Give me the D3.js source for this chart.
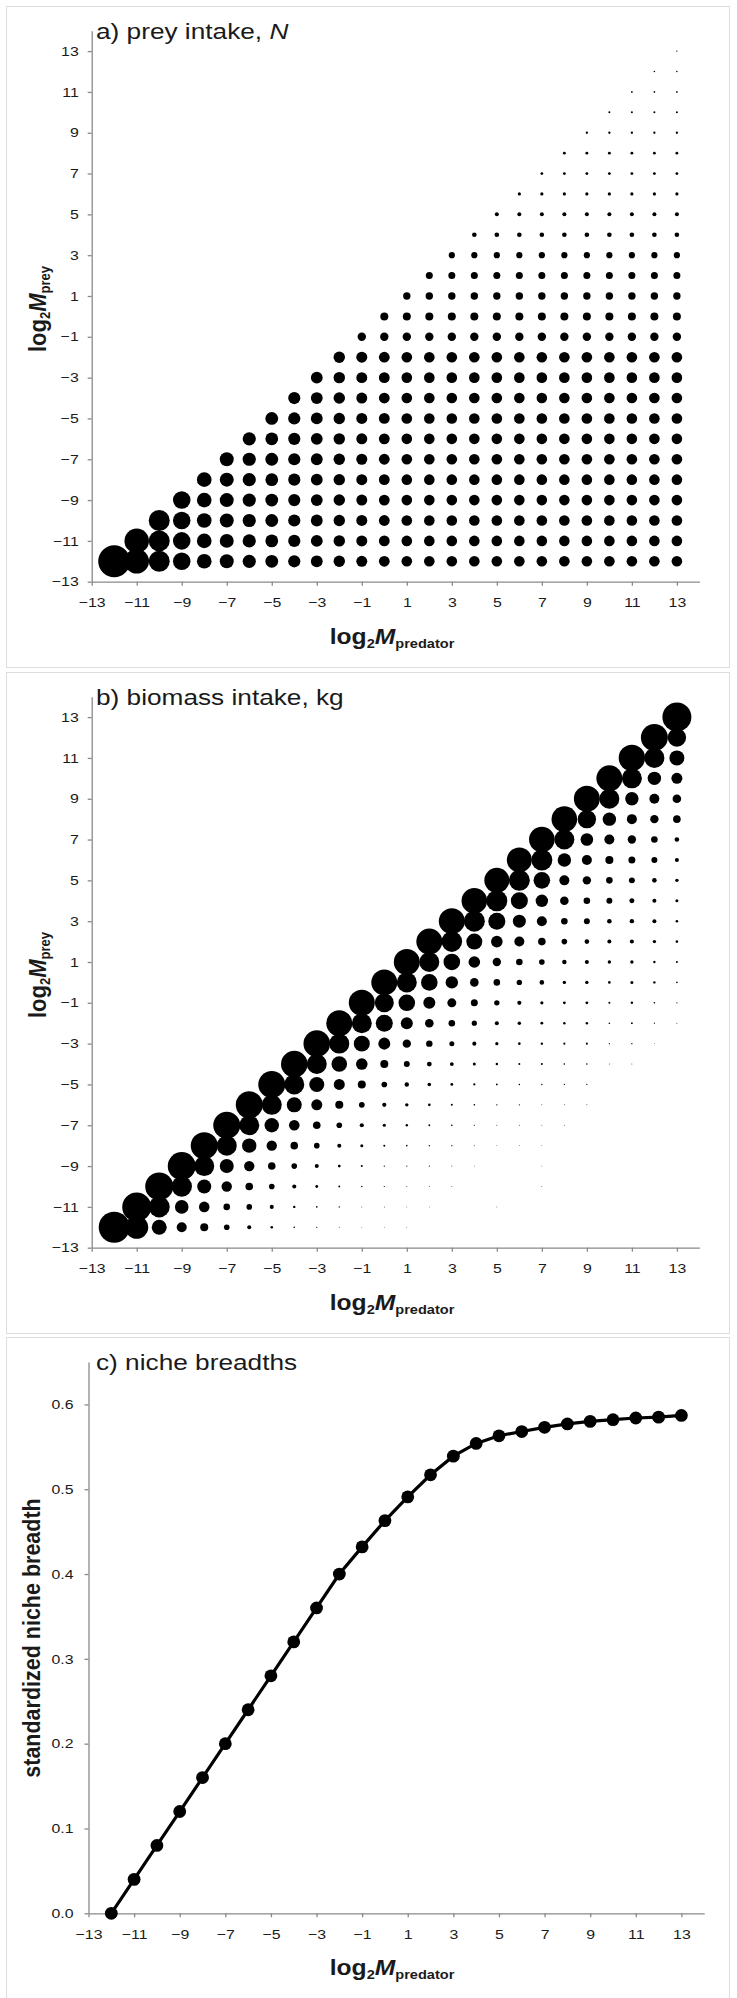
<!DOCTYPE html>
<html lang="en">
<head>
<meta charset="UTF-8">
<title>Prey intake, biomass intake and niche breadth</title>
<script src="https://d3js.org/d3.v7.min.js"></script>
<style>
  body { margin: 0; background: #fff; }
  svg text { font-family: Arial, "Liberation Sans", sans-serif; fill: #1a1a1a; }
</style>
</head>
<body>
<svg id="fig" width="737" height="1998"></svg>
<script>
// predator size classes (log2 M), prey rows run from -12 up to the predator class
const predatorMass = [-12, -11, -10, -9, -8, -7, -6, -5, -4, -3, -2, -1, 0, 1, 2, 3, 4, 5, 6, 7, 8, 9, 10, 11, 12, 13];
const logTicks = [-13, -11, -9, -7, -5, -3, -1, 1, 3, 5, 7, 9, 11, 13];
const nicheTicks = [0, 0.1, 0.2, 0.3, 0.4, 0.5, 0.6];

// a) prey intake N (relative, bubble area), one array per predator, prey -12 .. predator
const preyIntakeN = [
  [100],
  [59, 59],
  [43, 43, 43],
  [30, 30, 30, 30],
  [21, 21, 21, 21, 21],
  [19, 19, 19, 19, 19, 19],
  [17, 17, 17, 17, 17, 17, 17],
  [16, 16, 16, 16, 16, 16, 16, 16],
  [14.5, 14.5, 14.5, 14.5, 14.5, 14.5, 14.5, 14.5, 14.5],
  [13.6, 13.6, 13.6, 13.6, 13.6, 13.6, 13.6, 13.6, 13.6, 13.6],
  [12.7, 12.7, 12.7, 12.7, 12.7, 12.7, 12.7, 12.7, 12.7, 12.7, 12.7],
  [11.8, 11.8, 11.8, 11.8, 11.8, 11.8, 11.8, 11.8, 11.8, 11.8, 11.8, 6.9],
  [11.4, 11.4, 11.4, 11.4, 11.4, 11.4, 11.4, 11.4, 11.4, 11.4, 11.4, 6.9, 6.25],
  [11, 11, 11, 11, 11, 11, 11, 11, 11, 11, 11, 6.9, 6.25, 5.35],
  [11, 11, 11, 11, 11, 11, 11, 11, 11, 11, 11, 6.9, 6.25, 5.35, 4.8],
  [11, 11, 11, 11, 11, 11, 11, 11, 11, 11, 11, 6.9, 6.25, 5.35, 4.8, 3.75],
  [11, 11, 11, 11, 11, 11, 11, 11, 11, 11, 11, 6.9, 6.25, 5.35, 4.8, 3.75, 2.07],
  [11, 11, 11, 11, 11, 11, 11, 11, 11, 11, 11, 6.9, 6.25, 5.35, 4.8, 3.75, 2.07, 1.56],
  [11, 11, 11, 11, 11, 11, 11, 11, 11, 11, 11, 6.9, 6.25, 5.35, 4.8, 3.75, 2.07, 1.56, 1.0],
  [11, 11, 11, 11, 11, 11, 11, 11, 11, 11, 11, 6.9, 6.25, 5.35, 4.8, 3.75, 2.07, 1.56, 1.0, 0.77],
  [11, 11, 11, 11, 11, 11, 11, 11, 11, 11, 11, 6.9, 6.25, 5.35, 4.8, 3.75, 2.07, 1.56, 1.0, 0.77, 0.77],
  [11, 11, 11, 11, 11, 11, 11, 11, 11, 11, 11, 6.9, 6.25, 5.35, 4.8, 3.75, 2.07, 1.56, 1.0, 0.77, 0.77, 0.52],
  [11, 11, 11, 11, 11, 11, 11, 11, 11, 11, 11, 6.9, 6.25, 5.35, 4.8, 3.75, 2.07, 1.56, 1.0, 0.77, 0.77, 0.52, 0.39],
  [11, 11, 11, 11, 11, 11, 11, 11, 11, 11, 11, 6.9, 6.25, 5.35, 4.8, 3.75, 2.07, 1.56, 1.0, 0.77, 0.77, 0.52, 0.39, 0.28],
  [11, 11, 11, 11, 11, 11, 11, 11, 11, 11, 11, 6.9, 6.25, 5.35, 4.8, 3.75, 2.07, 1.56, 1.0, 0.77, 0.77, 0.52, 0.39, 0.28, 0.22],
  [11, 11, 11, 11, 11, 11, 11, 11, 11, 11, 11, 6.9, 6.25, 5.35, 4.8, 3.75, 2.07, 1.56, 1.0, 0.77, 0.77, 0.52, 0.39, 0.28, 0.22, 0.165]
];

// b) biomass intake (relative, bubble area), prey -12 .. predator
const biomassIntake = [
  [100],
  [55, 87.5],
  [23.4, 45.9, 81.5],
  [10.4, 19.2, 43.3, 81.5],
  [6.7, 11.7, 20.4, 41.6, 75.8],
  [3.3, 4.5, 11.2, 20.4, 41.6, 75.8],
  [1.7, 3.3, 6, 11.2, 21.6, 41.6, 75.8],
  [0.7, 1.7, 3.3, 6, 11.2, 21.6, 41.6, 75.8],
  [0.27, 0.6, 1.7, 3.3, 6, 11.7, 23.4, 41.6, 73.6],
  [0.15, 0.27, 0.82, 1.7, 3.3, 6, 12.6, 23.4, 41.6, 73.6],
  [0.1, 0.2, 0.34, 0.82, 1.7, 3.3, 6.7, 12.6, 25.3, 41.6, 70.3],
  [0.07, 0.1, 0.2, 0.42, 0.94, 1.8, 3.5, 6.7, 14, 26.6, 41.6, 70.3],
  [0.07, 0.1, 0.15, 0.2, 0.42, 1.07, 1.8, 3.3, 6.7, 15, 30.1, 37.5, 70.3],
  [0.07, 0.07, 0.1, 0.15, 0.27, 0.6, 1.2, 2, 3.7, 7.3, 15, 28.7, 41.6, 70.3],
  [0, 0.07, 0.1, 0.15, 0.2, 0.34, 0.7, 1.35, 2.4, 4.3, 7.7, 15, 28.7, 41.6, 70.3],
  [0, 0, 0.07, 0.1, 0.15, 0.27, 0.42, 0.82, 1.5, 2.6, 4.5, 8.4, 16, 28.7, 44.1, 70.3],
  [0, 0, 0, 0.07, 0.1, 0.15, 0.27, 0.5, 0.94, 1.7, 2.8, 5.1, 7.7, 14, 26.6, 45.9, 68.2],
  [0, 0.07, 0, 0, 0.07, 0.1, 0.2, 0.34, 0.6, 1.07, 1.7, 3, 4.5, 7.3, 14, 30.1, 45.9, 65],
  [0, 0, 0, 0, 0.07, 0.1, 0.15, 0.27, 0.42, 0.7, 1.2, 1.8, 3, 4.5, 10.4, 17.6, 30.1, 45.9, 65],
  [0, 0, 0.07, 0.07, 0.07, 0.07, 0.1, 0.2, 0.42, 0.6, 0.82, 1.07, 2.2, 3.3, 6, 10.4, 16, 28.7, 45.9, 68.2],
  [0, 0, 0, 0, 0, 0.07, 0.1, 0.15, 0.27, 0.42, 0.6, 0.82, 1.2, 2, 3.3, 4.5, 7.7, 10.4, 18.7, 41.6, 68.2],
  [0, 0, 0, 0, 0, 0, 0.1, 0.15, 0.27, 0.42, 0.6, 0.82, 1.2, 1.7, 2.2, 3.7, 4.5, 7.3, 10.4, 16.5, 35.2, 70.3],
  [0, 0, 0, 0, 0, 0, 0, 0, 0.1, 0.15, 0.27, 0.42, 0.7, 1.2, 1.7, 2.2, 3.7, 4.5, 6.7, 10.4, 18.7, 41.6, 70.3],
  [0, 0, 0, 0, 0, 0, 0, 0, 0.1, 0.2, 0.34, 0.6, 0.94, 1.2, 1.7, 2, 2.6, 3.7, 5.1, 7.3, 10.4, 18.7, 41.6, 72.5],
  [0, 0, 0, 0, 0, 0, 0, 0, 0, 0.07, 0.15, 0.27, 0.6, 0.6, 1.2, 1.7, 1.7, 2.2, 3.7, 4.5, 7.3, 10.4, 18.7, 41.6, 75.8],
  [0, 0, 0, 0, 0, 0, 0, 0, 0, 0, 0.1, 0.15, 0.27, 0.42, 0.7, 0.7, 0.94, 1.2, 1.7, 2.2, 6, 7.7, 12.6, 23.4, 35.2, 87.5]
];

// c) standardized niche breadth per predator class
const nicheBreadth = [0.0, 0.04, 0.08, 0.12, 0.16, 0.20, 0.24, 0.28, 0.32, 0.36, 0.40, 0.432, 0.463,
  0.491, 0.517, 0.539, 0.554, 0.563, 0.568, 0.573, 0.577, 0.580, 0.582, 0.584, 0.585, 0.587];

const SX = 1.22;          // the original figure is stretched a bit horizontally
const AXIS = "#898989";
const svg = d3.select("#fig");

function frame(top) {
  svg.append("rect")
    .attr("x", 6.5).attr("y", top + 0.5)
    .attr("width", 723).attr("height", 661)
    .attr("fill", "#fff").attr("stroke", "#dedede");
}

function title(top, parts) {
  const t = svg.append("text")
    .attr("transform", `translate(96,${top + 32.5}) scale(${SX},1)`)
    .attr("font-size", 21.5);
  parts.forEach(p => t.append("tspan").attr("font-style", p.italic ? "italic" : null).text(p.t));
}

function logTitle(x, y, sub, rotated) {
  const t = svg.append("text")
    .attr("transform", `translate(${x},${y}) scale(1.12,1)` + (rotated ? " rotate(-90)" : ""))
    .attr("text-anchor", "middle")
    .attr("font-weight", "bold")
    .attr("font-size", 22);
  t.append("tspan").text("log");
  t.append("tspan").attr("font-size", 13).attr("dy", 4).text("2");
  t.append("tspan").attr("font-style", "italic").attr("dy", -4).text("M");
  t.append("tspan").attr("font-size", 13).attr("dy", 4).text(sub);
}

function styleAxis(g, isY, offset) {
  g.select(".domain").attr("stroke", AXIS).attr("stroke-width", 1.3);
  g.selectAll(".tick line").attr("stroke", AXIS).attr("stroke-width", 1.3);
  const txt = g.selectAll(".tick text").attr("font-size", 13).attr("fill", "#1a1a1a");
  if (isY) txt.attr("x", -offset / SX).attr("transform", `scale(${SX},1)`);
  else txt.attr("transform", `scale(${SX},1)`);
}

function bubblePanel(top, values, rMax, parts) {
  frame(top);
  const x = d3.scaleLinear().domain([-13, 14]).range([91.7, 699.4]);
  const y = d3.scaleLinear().domain([-13, 14]).range([top + 575.7, top + 24.7]);
  const r = d3.scaleSqrt().domain([0, 100]).range([0, rMax]);

  const gx = svg.append("g").attr("transform", `translate(0,${y(-13)})`)
    .call(d3.axisBottom(x).tickValues(logTicks).tickSize(4).tickSizeOuter(0).tickPadding(12));
  styleAxis(gx, false);
  const gy = svg.append("g").attr("transform", `translate(${x(-13)},0)`)
    .call(d3.axisLeft(y).tickValues(logTicks).tickSize(4).tickSizeOuter(0));
  styleAxis(gy, true, 13);

  const cells = [];
  predatorMass.forEach((pred, i) => {
    values[i].forEach((v, j) => cells.push({ pred, prey: predatorMass[j], v }));
  });
  svg.append("g").selectAll("circle")
    .data(cells.filter(d => d.v > 0))
    .join("circle")
    .attr("cx", d => x(d.pred))
    .attr("cy", d => y(d.prey))
    .attr("r", d => r(d.v))
    .attr("fill", "#000");

  title(top, parts);
  logTitle(392, top + 637.5, "predator", false);
  logTitle(46, top + 303, "prey", true);
}

bubblePanel(6, preyIntakeN, 16, [{ t: "a) prey intake, " }, { t: "N", italic: true }]);
bubblePanel(672, biomassIntake, 15.5, [{ t: "b) biomass intake, kg" }]);

// c) niche breadths
(function () {
  const top = 1337;
  frame(top);
  const x = d3.scaleLinear().domain([-13, 14]).range([88.5, 704.2]);
  const y = d3.scaleLinear().domain([0, 0.65]).range([top + 576.3, top + 25]);

  const gx = svg.append("g").attr("transform", `translate(0,${y(0)})`)
    .call(d3.axisBottom(x).tickValues(logTicks).tickSize(4).tickSizeOuter(0).tickPadding(12));
  styleAxis(gx, false);
  const gy = svg.append("g").attr("transform", `translate(${x(-13)},0)`)
    .call(d3.axisLeft(y).tickValues(nicheTicks).tickFormat(d3.format(".1f")).tickSize(4).tickSizeOuter(0));
  styleAxis(gy, true, 15);

  const pts = predatorMass.map((p, i) => ({ p, v: nicheBreadth[i] }));
  svg.append("path")
    .datum(pts)
    .attr("fill", "none")
    .attr("stroke", "#000")
    .attr("stroke-width", 3.2)
    .attr("d", d3.line().x(d => x(d.p)).y(d => y(d.v)));
  svg.append("g").selectAll("circle")
    .data(pts)
    .join("circle")
    .attr("cx", d => x(d.p))
    .attr("cy", d => y(d.v))
    .attr("r", 6.4)
    .attr("fill", "#000");

  title(top, [{ t: "c) niche breadths" }]);
  logTitle(392, top + 637.5, "predator", false);
  svg.append("text")
    .attr("transform", `translate(40,${top + 301}) scale(1.12,1) rotate(-90)`)
    .attr("text-anchor", "middle")
    .attr("font-weight", "bold")
    .attr("font-size", 21.5)
    .text("standardized niche breadth");
})();
</script>
</body>
</html>
